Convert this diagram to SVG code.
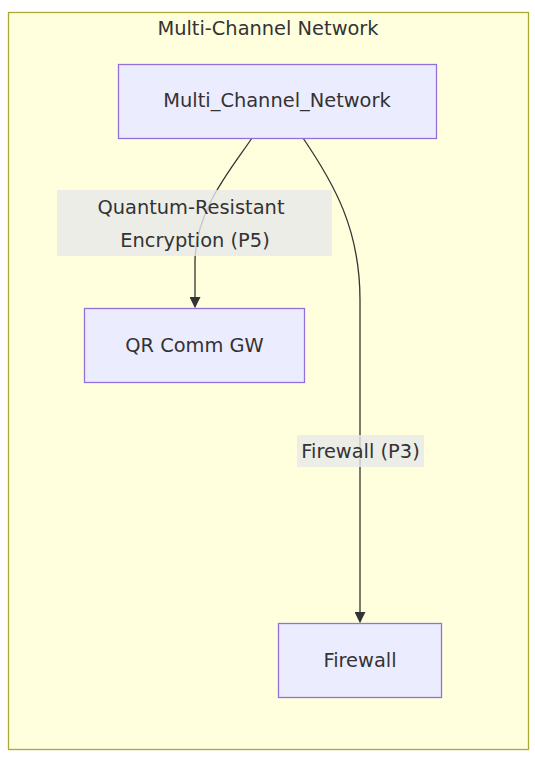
<svg xmlns="http://www.w3.org/2000/svg" width="535" height="757" viewBox="0 0 535 757">
<style>
text{font-family:"Trebuchet MS","DejaVu Sans","Liberation Sans",sans-serif;fill:#333;font-size:19.4px;text-anchor:middle;dominant-baseline:central}
.node rect{fill:#ECECFF;stroke:#9370DB;stroke-width:1.3}
.edge{fill:none;stroke:#333;stroke-width:1.3}
.lbl{fill:rgba(232,232,232,0.8)}
</style>
<defs>
<marker id="arrow" viewBox="0 0 10 10" refX="9" refY="5" markerWidth="11" markerHeight="11" orient="auto" markerUnits="userSpaceOnUse">
<path d="M0,0 L10,5 L0,10 z" fill="#333"/>
</marker>
</defs>
<g id="cluster">
<rect x="8.5" y="12.5" width="520" height="737" fill="#ffffde" stroke="#aaaa33" stroke-width="1.3"/>
<text x="268" y="28">Multi-Channel Network</text>
</g>
<g id="connectors">
<path class="edge" d="M252,138 C232,168 195,210 195,262 L195,307" marker-end="url(#arrow)"/>
<path class="edge" d="M303,138 C335,185 360,230 360,300 L360,622" marker-end="url(#arrow)"/>
<g id="label1">
<rect class="lbl" x="57" y="190" width="275" height="66"/>
<text x="191" y="207">Quantum-Resistant</text>
<text x="195" y="240">Encryption (P5)</text>
</g>
<g id="label2">
<rect class="lbl" x="297" y="435" width="127" height="32"/>
<text x="360.5" y="451">Firewall (P3)</text>
</g>
</g>
<g id="Multi_Channel_Network" class="node">
<rect x="118.5" y="64.5" width="318" height="74"/>
<text x="277" y="100">Multi_Channel_Network</text>
</g>
<g id="QR_Comm_GW" class="node">
<rect x="84.5" y="308.5" width="220" height="74"/>
<text x="194.5" y="345">QR Comm GW</text>
</g>
<g id="Firewall" class="node">
<rect x="278.5" y="623.5" width="163" height="74"/>
<text x="360" y="660">Firewall</text>
</g>
</svg>
